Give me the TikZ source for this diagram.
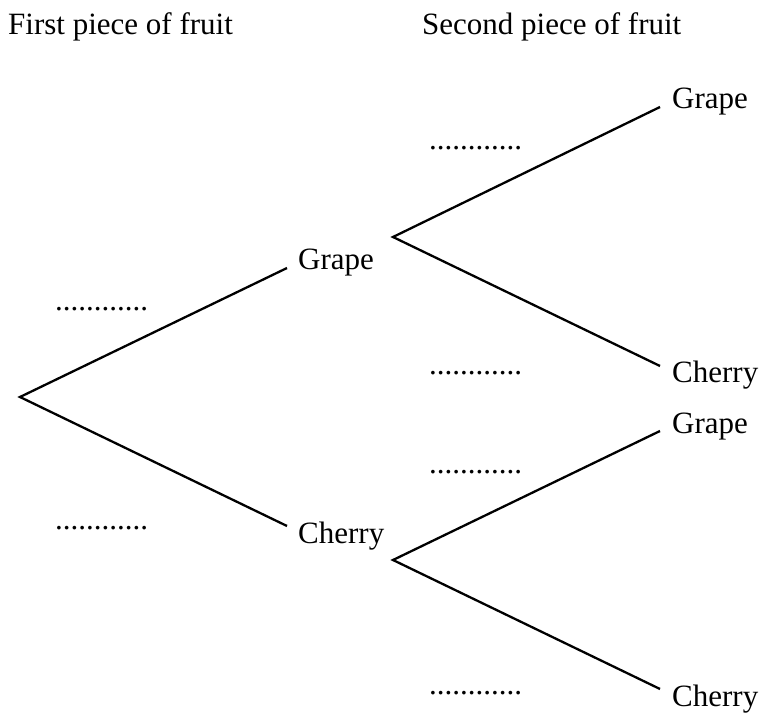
\documentclass[tikz,border=0pt]{standalone}
\usepackage{fontspec}
\setmainfont{Liberation Serif}
\begin{document}
\begin{tikzpicture}[x=1pt,y=-1pt,
  lbl/.style={anchor=base west,inner sep=0pt,font=\fontsize{31}{36}\selectfont},
  branch/.style={line width=2.3pt,line cap=butt,line join=miter}]
\useasboundingbox (0,0) rectangle (761,714);
% headers
\node[lbl] (h1) at (8,35) {First piece of fruit};
\node[lbl] (h2) at (422,35) {Second piece of fruit};
% tree points
\coordinate (root) at (20,397);
\coordinate (e1) at (287,268);
\coordinate (e2) at (287,526);
\coordinate (f1) at (393,237);
\coordinate (f2) at (393,560);
\coordinate (e11) at (660,107);
\coordinate (e12) at (660,366);
\coordinate (e21) at (660,431);
\coordinate (e22) at (660,689);
% labels
\node[lbl] (g1) at (298,270) {Grape};
\node[lbl] (c1) at (298,543) {Cherry};
\node[lbl] (g11) at (672,109) {Grape};
\node[lbl] (c12) at (672,382) {Cherry};
\node[lbl] (g21) at (672,433) {Grape};
\node[lbl] (c22) at (672,706) {Cherry};
% probabilities
\node[lbl] (p1) at (55,311) {............};
\node[lbl] (p2) at (55,529) {............};
\node[lbl] (p11) at (429,150) {............};
\node[lbl] (p12) at (429,374) {............};
\node[lbl] (p21) at (429,473) {............};
\node[lbl] (p22) at (429,694) {............};
% branches
\draw[branch] (e1) -- (root) -- (e2);
\draw[branch] (e11) -- (f1) -- (e12);
\draw[branch] (e21) -- (f2) -- (e22);
\end{tikzpicture}
\end{document}
